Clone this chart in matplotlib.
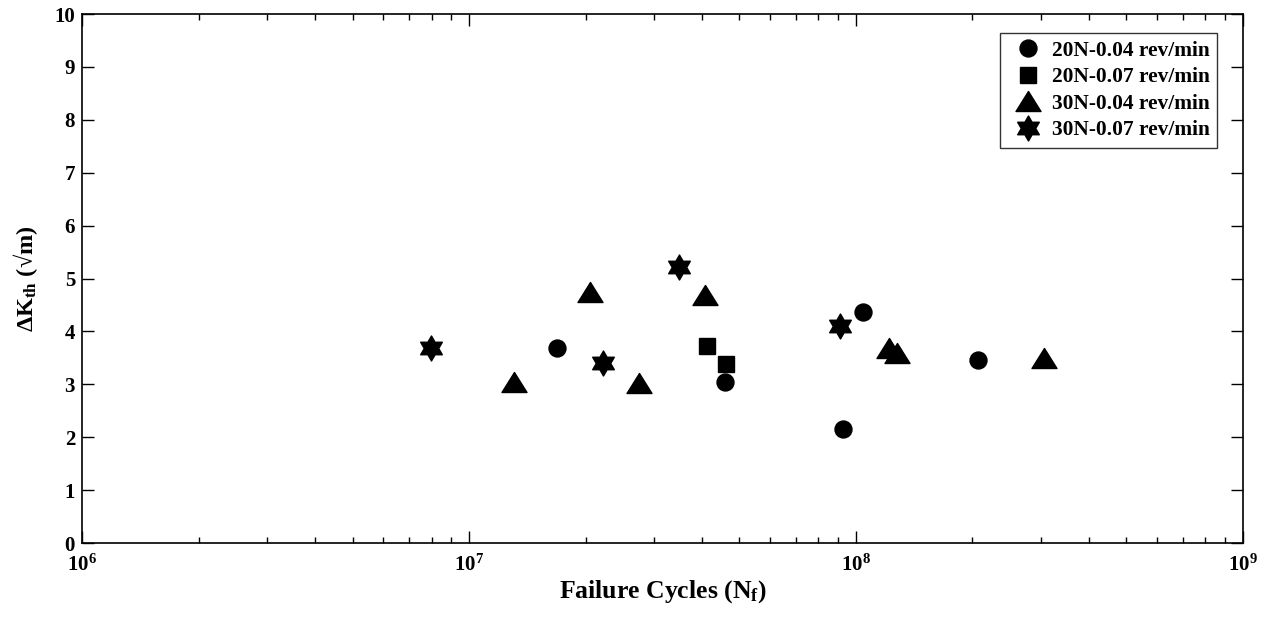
import numpy as np
import matplotlib
matplotlib.use('Agg')
import matplotlib.pyplot as plt
from matplotlib.path import Path

plt.rcParams['font.family'] = ['Liberation Serif', 'DejaVu Serif']
plt.rcParams['font.weight'] = 'bold'
plt.rcParams['mathtext.fontset'] = 'custom'
plt.rcParams['mathtext.rm'] = 'Liberation Serif:bold'
plt.rcParams['mathtext.it'] = 'Liberation Serif:italic:bold'
plt.rcParams['mathtext.bf'] = 'Liberation Serif:bold'
plt.rcParams['mathtext.default'] = 'regular'

# data
n_20_004 = [1.69e7, 4.59e7, 9.27e7, 1.04e8, 2.07e8]
k_20_004 = [3.68, 3.05, 2.15, 4.36, 3.46]

n_20_007 = [4.13e7, 4.61e7]
k_20_007 = [3.72, 3.38]

n_30_004 = [1.31e7, 2.06e7, 2.75e7, 4.07e7, 1.22e8, 1.28e8, 3.06e8]
k_30_004 = [3.05, 4.74, 3.03, 4.69, 3.68, 3.59, 3.49]

n_30_007 = [7.96e6, 2.22e7, 3.49e7, 9.1e7]
k_30_007 = [3.68, 3.41, 5.22, 4.11]

labels = ['20N-0.04 rev/min', '20N-0.07 rev/min', '30N-0.04 rev/min', '30N-0.07 rev/min']

# custom markers: wide triangle and six pointed star
tri = Path([(0, 0.8), (-1, -0.8), (1, -0.8), (0, 0.8)], closed=True)
ang = np.deg2rad(90 + 30 * np.arange(12))
rad = np.where(np.arange(12) % 2 == 0, 1.0, 0.577)
star_pts = np.column_stack([rad * np.cos(ang), rad * np.sin(ang)])
star = Path(np.vstack([star_pts, star_pts[:1]]), closed=True)

fig = plt.figure(figsize=(12.7, 6.17), dpi=100)
ax = fig.add_axes([0.0646, 0.1199, 0.9141, 0.8574])

ax.plot(n_20_004, k_20_004, 'o', color='black', markersize=12.2, linestyle='none', label=labels[0])
ax.plot(n_20_007, k_20_007, 's', color='black', markersize=12.2, linestyle='none', label=labels[1])
ax.plot(n_30_004, k_30_004, marker=tri, color='black', markersize=18, linestyle='none', label=labels[2])
ax.plot(n_30_007, k_30_007, marker=star, color='black', markersize=18, linestyle='none', label=labels[3])

ax.set_xscale('log')
ax.set_xlim(1e6, 1e9)
ax.set_ylim(0, 10)
ax.set_yticks(range(0, 11))

ax.tick_params(which='both', direction='in', top=True, right=True, labelsize=15)
ax.tick_params(which='major', length=8.5, width=1)
ax.tick_params(which='minor', length=4.5, width=1)
ax.tick_params(axis='x', which='major', pad=8)
ax.tick_params(axis='y', which='major', pad=5)
for s in ax.spines.values():
    s.set_linewidth(1.2)

ax.set_xlabel(r'Failure Cycles (N$_\mathregular{f}$)', fontsize=18.5, fontweight='bold', labelpad=2)
ax.set_ylabel(r'$\Delta$K$_\mathregular{th}$ (√m)', fontsize=17.5, fontweight='bold', labelpad=10)

leg = ax.legend(loc='upper right', bbox_to_anchor=(0.9776, 0.964), fontsize=15.4, frameon=True,
                fancybox=False, edgecolor='black', handletextpad=0.15, borderpad=0.35,
                labelspacing=0.31, handlelength=1.9, borderaxespad=0, markerscale=1.0)
leg.get_frame().set_linewidth(1.0)

plt.savefig('out.png', dpi=100)
